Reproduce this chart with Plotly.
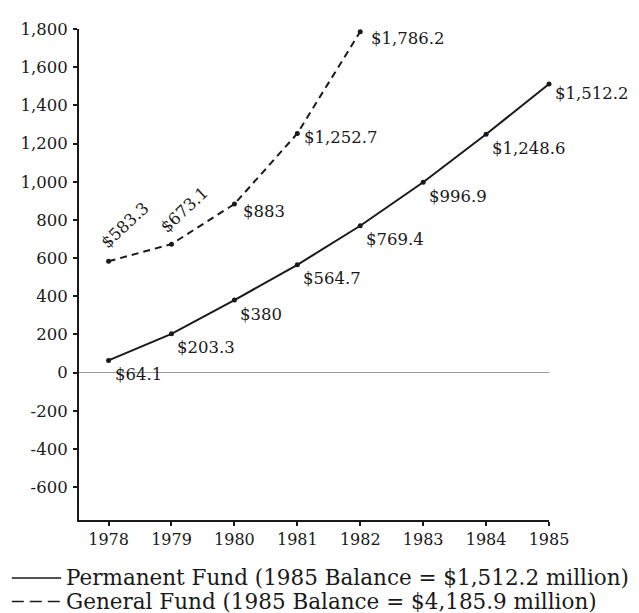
import plotly.graph_objects as go

# ---- data ----
years = [1978, 1979, 1980, 1981, 1982, 1983, 1984, 1985]
permanent_fund = [64.1, 203.3, 380.0, 564.7, 769.4, 996.9, 1248.6, 1512.2]
general_years = [1978, 1979, 1980, 1981, 1982]
general_fund = [583.3, 673.1, 883.0, 1252.7, 1786.2]
y_ticks = [-600, -400, -200, 0, 200, 400, 600, 800, 1000, 1200, 1400, 1600, 1800]
legend_labels = ["Permanent Fund (1985 Balance = $1,512.2 million)",
                 "General Fund (1985 Balance = $4,185.9 million)"]

FONT = "DejaVu Serif"
INK = "#1a1a1a"


def money(v):
    s = format(v, ",.1f")
    if s.endswith(".0"):
        s = s[:-2]
    return "$" + s


fig = go.Figure()
fig.add_trace(go.Scatter(
    x=years, y=permanent_fund, mode="lines+markers",
    line=dict(color=INK, width=2), marker=dict(color=INK, size=5),
    cliponaxis=False, showlegend=False, hoverinfo="skip"))
fig.add_trace(go.Scatter(
    x=general_years, y=general_fund, mode="lines+markers",
    line=dict(color=INK, width=2, dash="7px,5px"), marker=dict(color=INK, size=5),
    cliponaxis=False, showlegend=False, hoverinfo="skip"))

lab_font = dict(family=FONT, size=16.5, color=INK)
anns = []
for i, (x, v) in enumerate(zip(years, permanent_fund)):
    ys = -10 if i == len(years) - 1 else -14
    anns.append(dict(x=x, y=v, text=money(v), showarrow=False, xanchor="left",
                     yanchor="middle", xshift=4, yshift=ys, font=lab_font))
g_style = [
    dict(xanchor="center", xshift=16, yshift=36, textangle=-43),
    dict(xanchor="center", xshift=13, yshift=35, textangle=-43),
    dict(xanchor="left", xshift=7, yshift=-7, textangle=0),
    dict(xanchor="left", xshift=5, yshift=-4, textangle=0),
    dict(xanchor="left", xshift=9, yshift=-7, textangle=0),
]
for (x, v), st in zip(zip(general_years, general_fund), g_style):
    anns.append(dict(x=x, y=v, text=money(v), showarrow=False, yanchor="middle",
                     font=lab_font, **st))

# legend (drawn manually, below the chart)
leg_font = dict(family=FONT, size=21.5, color=INK)
leg_y = [-0.118, -0.166]
for ly, txt in zip(leg_y, legend_labels):
    anns.append(dict(xref="paper", yref="paper", x=-0.032, y=ly, text=txt,
                     showarrow=False, xanchor="left", yanchor="middle", font=leg_font))

shapes = [
    dict(type="line", xref="paper", yref="paper", x0=-0.143, x1=-0.038,
         y0=leg_y[0], y1=leg_y[0], line=dict(color=INK, width=1.5)),
    dict(type="line", xref="paper", yref="paper", x0=-0.143, x1=-0.038,
         y0=leg_y[1], y1=leg_y[1], line=dict(color=INK, width=1.5, dash="12px,6px")),
]

fig.update_layout(
    width=631, height=605,
    margin=dict(l=65, r=90, t=19, b=93),
    paper_bgcolor="white", plot_bgcolor="white",
    annotations=anns, shapes=shapes,
    font=dict(family=FONT, color=INK),
    xaxis=dict(range=[1977.53, 1985], tickvals=years, ticktext=[str(y) for y in years],
               showgrid=False, zeroline=False, showline=True, linecolor=INK, linewidth=2,
               ticks="outside", ticklen=4, tickwidth=2, tickcolor=INK,
               tickfont=dict(family=FONT, size=16, color=INK)),
    yaxis=dict(range=[-772, 1800], tickvals=y_ticks,
               ticktext=[format(t, ",") for t in y_ticks],
               showgrid=False, zeroline=True, zerolinecolor="#9a9a9a", zerolinewidth=1,
               showline=True, linecolor=INK, linewidth=2,
               ticks="outside", ticklen=4, tickwidth=2, tickcolor=INK,
               ticklabelstandoff=2,
               tickfont=dict(family=FONT, size=16.5, color=INK)),
)

fig.write_html("out.html")
